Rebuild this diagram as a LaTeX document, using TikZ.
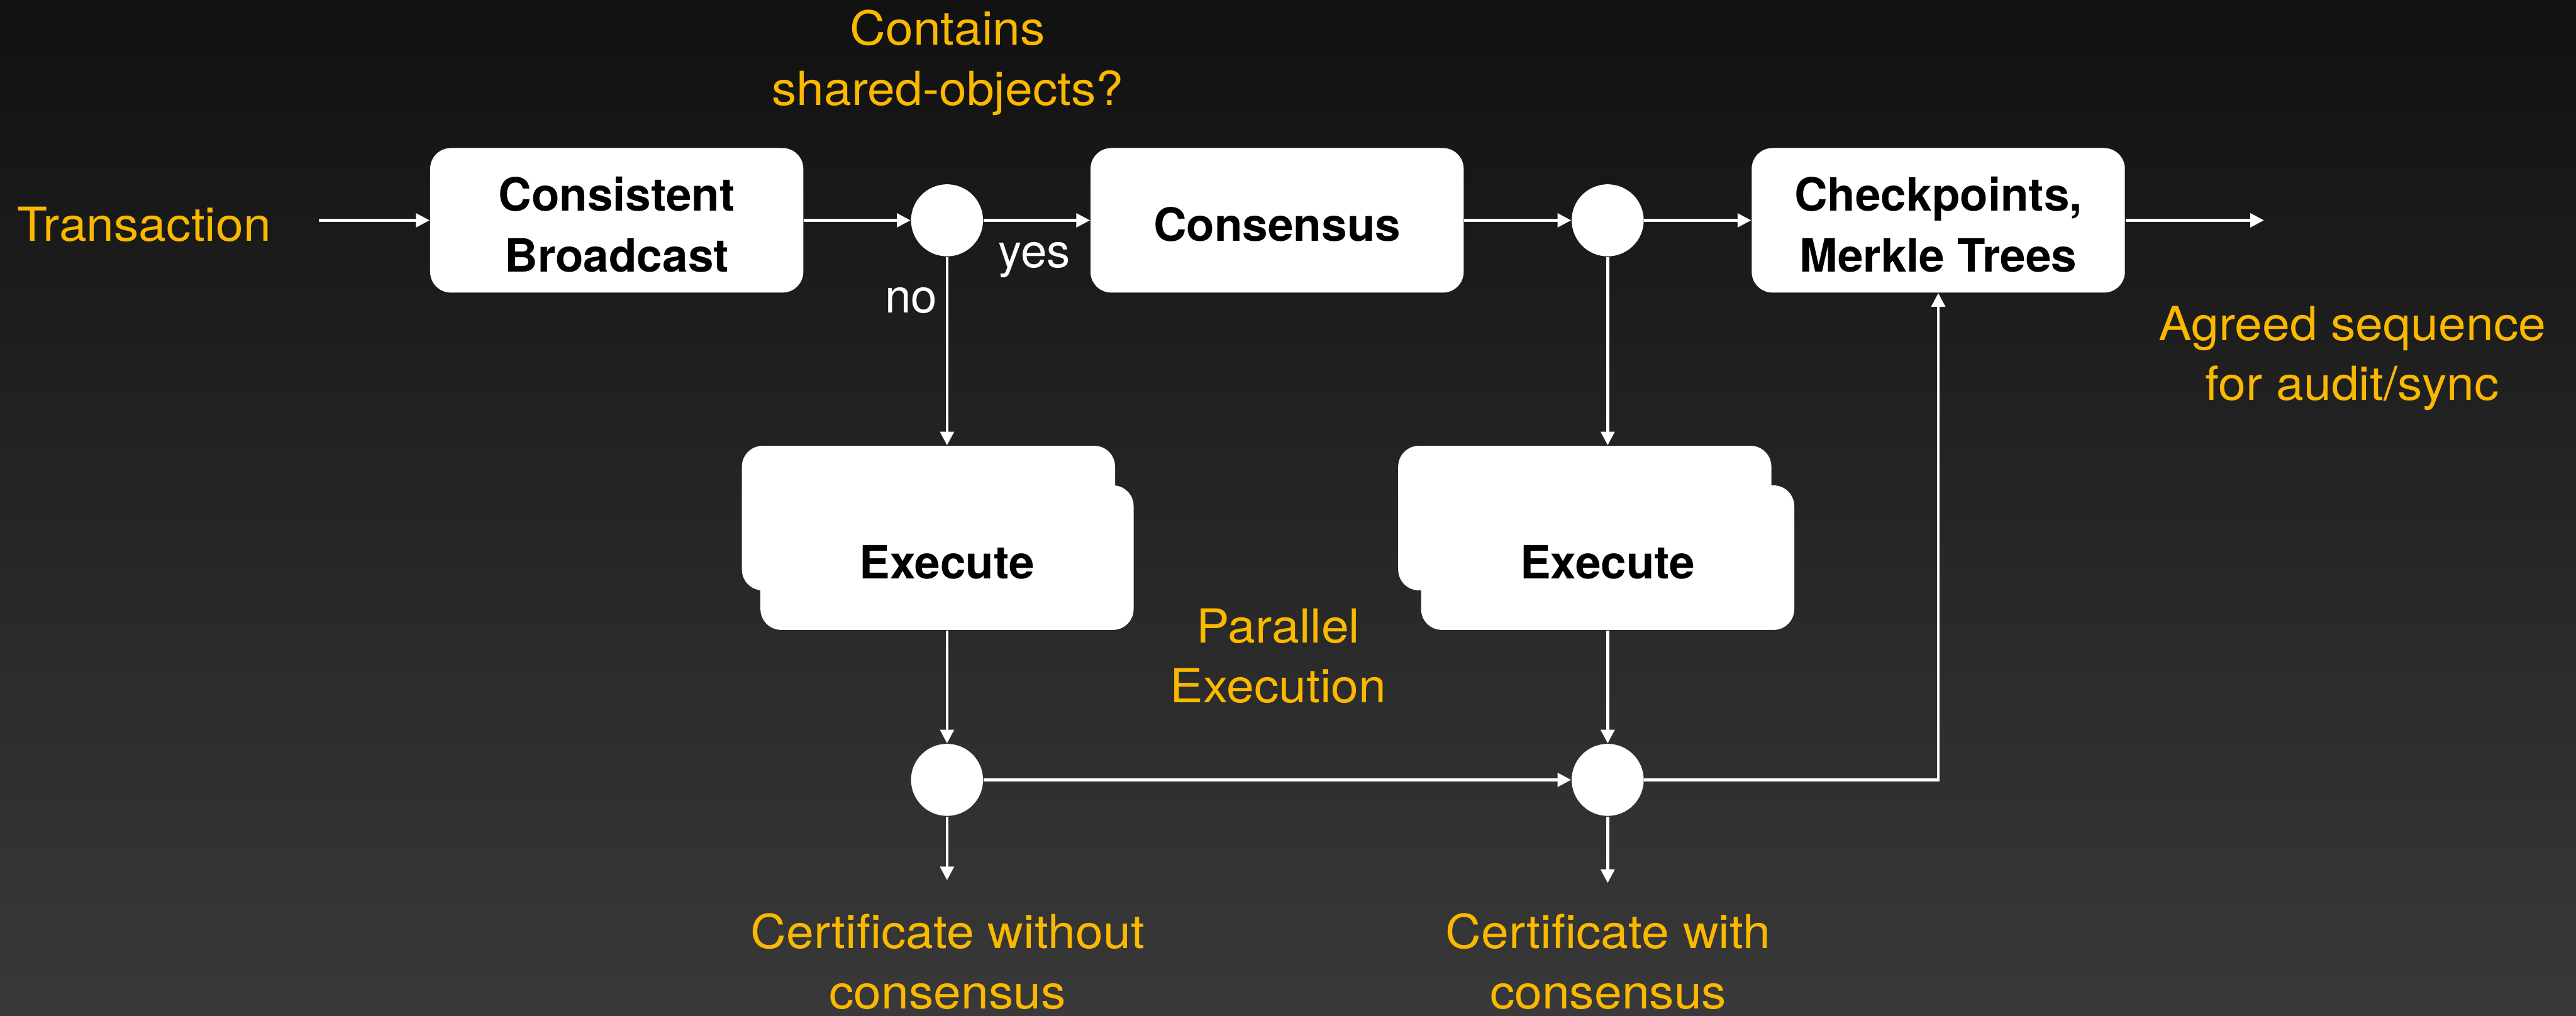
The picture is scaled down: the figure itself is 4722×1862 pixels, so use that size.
\documentclass[tikz,border=0pt]{standalone}
\usepackage{fontspec}
\setmainfont{TeX Gyre Heros}
\newfontfamily\notefont{TeX Gyre Heros}[FakeStretch=1.055]
\usetikzlibrary{arrows.meta}
\definecolor{bgtop}{RGB}{17,17,17}
\definecolor{bgbot}{RGB}{57,57,57}
\definecolor{accent}{RGB}{250,185,0}
\begin{document}
\begin{tikzpicture}[
  x=0.2pt, y=-0.2pt,
  stagebox/.style={fill=white, rounded corners=7.6pt, minimum width=136.8pt,
    minimum height=53pt, inner sep=0pt},
  stagetext/.style={inner sep=0pt, align=center, text=black, yshift=-1.6pt,
    font=\bfseries\fontsize{16.8}{22.4}\selectfont},
  junction/.style={circle, fill=white, minimum size=26.4pt, inner sep=0pt},
  note/.style={text=accent, inner sep=0pt, align=center,
    font=\notefont\fontsize{17.2}{22}\selectfont},
  branch/.style={text=white, inner sep=0pt, font=\fontsize{17.2}{22}\selectfont},
  flow/.style={draw=white, line width=1pt, -{Triangle[length=5pt,width=5pt]}}
]
% backdrop
\shade[top color=bgtop, bottom color=bgbot] (0,0) rectangle (4722,1862);
\useasboundingbox (0,0) rectangle (4722,1862);

% main row
\node[note, anchor=base] (trans) at (264,442) {Transaction};
\coordinate (tstart) at (585,404);
\node[stagebox] (cb) at (1130.5,404) {};
\node[stagetext] (cb-t) at (cb.center) {Consistent\\Broadcast};
\node[junction] (c1) at (1736,404) {};
\node[stagebox] (cons) at (2341,404) {};
\node[stagetext] (cons-t) at (cons.center) {Consensus};
\node[junction] (c2) at (2947,404) {};
\node[stagebox] (chk) at (3553,404) {};
\node[stagetext] (chk-t) at (chk.center) {Checkpoints,\\Merkle Trees};
\coordinate (outend) at (4150,404);

\node[note] (ask) at (1737,115) {Contains\\shared-objects?};
\node[branch, anchor=base] (yes) at (1896,490) {yes};
\node[branch, anchor=base] (no) at (1670,573) {no};
\node[note] (agreed) at (4312,657) {Agreed sequence\\for audit/sync};

% stacked execution boxes
\node[stagebox] (e1b) at (1702,950) {};
\node[stagebox] (e1f) at (1736,1022.5) {};
\node[stagetext] (e1-t) at (e1f.center) {Execute};
\node[stagebox] (e2b) at (2905,950) {};
\node[stagebox] (e2f) at (2947,1022.5) {};
\node[stagetext] (e2-t) at (e2f.center) {Execute};
\node[note] (par) at (2343,1203) {Parallel\\Execution};

% certificates
\node[junction] (c3) at (1736,1430) {};
\node[junction] (c4) at (2947,1430) {};
\coordinate (cert1end) at (1736,1614);
\coordinate (cert2end) at (2947,1619);
\node[note] (cert1) at (1737,1763) {Certificate without\\consensus};
\node[note] (cert2) at (2948,1763) {Certificate with\\consensus};

% connectors
\draw[flow] (tstart) -- (cb);
\draw[flow] (cb) -- (c1);
\draw[flow] (c1) -- (cons);
\draw[flow] (cons) -- (c2);
\draw[flow] (c2) -- (chk);
\draw[flow] (chk) -- (outend);
\draw[flow] (c1) -- (c1 |- e1b.north);
\draw[flow] (c2) -- (c2 |- e2b.north);
\draw[flow] (e1f) -- (c3);
\draw[flow] (e2f) -- (c4);
\draw[flow] (c3) -- (c4);
\draw[flow] (c4) -| (chk);
\draw[flow] (c3) -- (cert1end);
\draw[flow] (c4) -- (cert2end);
\end{tikzpicture}
\end{document}
